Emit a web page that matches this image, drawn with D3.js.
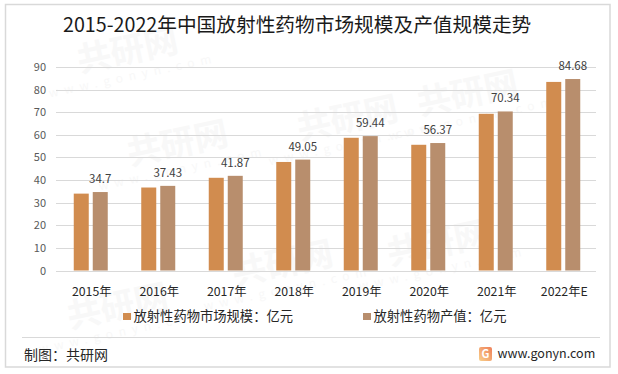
<!DOCTYPE html>
<html><head><meta charset="utf-8">
<script src="https://cdn.jsdelivr.net/npm/d3@7/dist/d3.min.js"></script>
<style>html,body{margin:0;padding:0;background:#fff}svg{display:block}text{font-family:"Noto Sans CJK SC","Noto Sans",sans-serif}</style>
</head><body><svg id="c" width="618" height="374"></svg>
<script>
const categories=["2015年","2016年","2017年","2018年","2019年","2020年","2021年","2022年E"];
const marketSize=[34,36.7,41,48,58.7,55.6,69.3,83.4];
const outputValue=[34.7,37.43,41.87,49.05,59.44,56.37,70.34,84.68];
const yTicks=[0,10,20,30,40,50,60,70,80,90];
const seriesNames=["放射性药物市场规模：亿元","放射性药物产值：亿元"];
const seriesColors=["#d18c4f","#b88e6d"];
const titleText="2015-2022年中国放射性药物市场规模及产值规模走势";
const sourceText="制图：共研网";
const siteText="www.gonyn.com";
const watermarks=[[130,62],[180,155],[350,130],[285,275],[470,105],[440,255],[120,318]];

const svg=d3.select("#c");
svg.append("rect").attr("x",5.5).attr("y",4.5).attr("width",604.5).attr("height",362.5).attr("fill","#fff").attr("stroke","#d9d9d9").attr("stroke-width",1.5);

const wm=svg.append("g").attr("fill","#f8f8f8");
watermarks.forEach(([wx,wy])=>{
  const g=wm.append("g").attr("transform",`translate(${wx},${wy}) rotate(-12)`);
  g.append("text").attr("text-anchor","middle").attr("font-size",34).attr("font-weight",700).text("共研网");
  g.append("text").attr("text-anchor","middle").attr("y",18).attr("font-size",12).attr("letter-spacing",6).text("www.gonyn.com");
});

const x=d3.scaleBand().domain(categories).range([57,597]);
const y=d3.scaleLinear().domain([0,90]).range([270.5,67]);
const inner=d3.scaleBand().domain([0,1]).range([-17,17.2]).paddingInner(0.2);

const grid=svg.append("g");
yTicks.forEach(t=>{
  grid.append("line").attr("x1",56).attr("x2",596).attr("y1",Math.round(y(t))+.5).attr("y2",Math.round(y(t))+.5).attr("stroke","#d9d9d9").attr("stroke-width",1.2);
  grid.append("text").attr("x",46).attr("y",y(t)+4).attr("text-anchor","end").attr("font-size",11).attr("fill","#595959").text(t);
});

[marketSize,outputValue].forEach((vals,s)=>{
  svg.append("g").selectAll("rect").data(vals).join("rect")
    .attr("x",(d,i)=>x(categories[i])+x.bandwidth()/2+inner(s))
    .attr("width",15).attr("y",d=>y(d)).attr("height",d=>y(0)-y(d)).attr("fill",seriesColors[s]);
});
svg.append("g").selectAll("text").data(outputValue).join("text")
  .attr("x",(d,i)=>x(categories[i])+x.bandwidth()/2+inner(1)+7.5)
  .attr("y",d=>y(d)-9).attr("text-anchor","middle").attr("font-size",11.5).attr("fill","#404040").text(d=>d);

svg.append("g").selectAll("text").data(categories).join("text")
  .attr("x",d=>x(d)+x.bandwidth()/2+1).attr("y",296).attr("text-anchor","middle").attr("font-size",12.3).attr("fill","#262626").text(d=>d);

const legendX=[123,363];
seriesNames.forEach((n,i)=>{
  svg.append("rect").attr("x",legendX[i]).attr("y",313).attr("width",8).attr("height",7).attr("fill",seriesColors[i]);
  svg.append("text").attr("x",legendX[i]+10.5).attr("y",321).attr("font-size",13.3).attr("fill","#262626").text(n);
});

svg.append("text").attr("x",63).attr("y",32).attr("font-size",19.7).attr("fill","#1a1a1a").text(titleText);
svg.append("line").attr("x1",22).attr("x2",600).attr("y1",337.5).attr("y2",337.5).attr("stroke","#d9d9d9").attr("stroke-width",1.2);
svg.append("text").attr("x",24).attr("y",360).attr("font-size",14).attr("fill","#262626").text(sourceText);
svg.append("text").attr("x",497.5).attr("y",358).attr("font-size",12.5).attr("fill","#262626").text(siteText);

const grad=svg.append("defs").append("linearGradient").attr("id","lg").attr("x1",0).attr("y1",1).attr("x2",1).attr("y2",0);
grad.append("stop").attr("offset",0).attr("stop-color","#f9d08a");
grad.append("stop").attr("offset",1).attr("stop-color","#ee7f5a");
const logo=svg.append("g");
logo.append("rect").attr("x",479).attr("y",347).attr("width",13).attr("height",14).attr("rx",2).attr("fill","url(#lg)");
logo.append("text").attr("x",485.5).attr("y",358).attr("text-anchor","middle").attr("font-size",11).attr("font-weight",700).attr("fill","#fff").text("G");
</script></body></html>
